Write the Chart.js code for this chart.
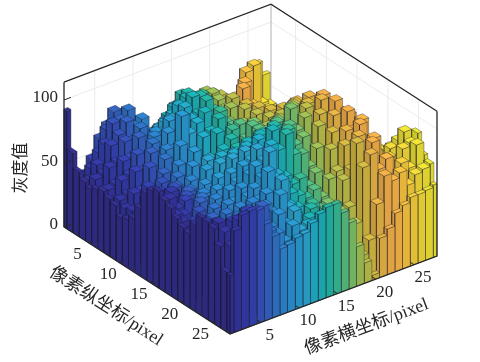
<!DOCTYPE html>
<html>
<head>
<meta charset="utf-8">
<script src="https://cdn.jsdelivr.net/npm/chart.js@4"></script>
<style>
    body { margin: 0; background: #fff; }
</style>
</head>
<body>
<canvas id="myChart" width="480" height="362"></canvas>
<script>
// gray value per row (pixel y 1..28), each row pixel x 1..28
var row01 = [93,30,32,36,44,50,46,40,36,34,36,38,40,44,46,48,46,44,42,40,38,40,44,50,56,74,63,36];
var row02 = [63,36,42,52,66,74,68,58,50,46,48,50,56,62,64,62,58,62,64,54,46,50,58,75,78,46,42,36];
var row03 = [51,40,50,60,76,88,84,72,62,56,60,62,68,74,74,70,68,76,72,58,50,58,72,52,46,44,40,36];
var row04 = [46,46,56,70,84,84,90,78,68,60,66,70,78,86,78,72,76,78,74,62,54,73,50,50,46,44,42,38];
var row05 = [43,50,52,72,78,86,80,84,70,66,74,78,84,90,82,74,70,76,74,66,58,52,52,48,48,44,42,38];
var row06 = [46,44,60,62,76,74,82,72,74,72,80,88,92,84,90,72,66,72,78,64,66,56,54,52,46,46,44,40];
var row07 = [48,48,50,66,66,80,72,76,68,84,78,90,96,94,80,72,62,76,70,74,60,62,54,52,50,46,48,42];
var row08 = [45,42,56,58,72,66,76,64,80,76,88,84,86,94,84,64,70,66,76,68,70,58,60,50,52,48,44,42];
var row09 = [43,46,48,64,62,74,66,72,70,94,78,84,90,80,86,74,60,70,68,78,64,66,56,58,50,50,46,44];
var row10 = [36,42,52,52,68,58,70,60,76,66,56,76,78,86,70,76,72,62,78,72,76,68,66,58,56,48,50,42];
var row11 = [38,44,44,58,54,64,56,66,60,72,60,62,80,70,78,80,62,74,70,82,68,74,62,62,54,54,46,46];
var row12 = [42,40,54,48,62,52,62,54,66,56,66,58,70,76,66,72,82,66,82,76,84,70,76,60,62,52,52,44];
var row13 = [53,50,48,60,54,60,50,60,52,64,58,70,64,72,62,85,80,80,74,90,78,88,72,72,58,58,48,50];
var row14 = [68,58,62,54,64,52,58,48,58,54,70,64,74,66,74,85,82,74,90,84,96,82,86,66,66,52,54,46];
var row15 = [73,70,60,66,56,62,48,56,50,64,62,78,70,80,72,84,78,92,84,100,90,98,78,78,60,60,50,52];
var row16 = [76,68,72,58,64,52,58,50,60,58,80,74,88,78,90,82,96,88,104,94,106,92,94,70,70,54,56,48];
var row17 = [72,72,62,66,54,60,50,58,54,74,72,90,84,96,86,100,92,108,98,106,100,108,86,80,60,62,50,54];
var row18 = [69,62,60,52,58,50,56,52,66,70,92,86,100,92,100,96,112,102,108,96,110,100,98,68,70,52,58,52];
var row19 = [64,60,50,54,48,54,50,60,60,86,88,102,94,108,96,104,98,106,92,104,96,110,90,76,56,60,54,60];
var row20 = [60,54,54,46,52,48,58,54,74,82,100,96,110,100,106,92,96,84,100,88,104,98,100,66,64,52,62,56];
var row21 = [58,54,48,50,46,54,52,64,70,92,94,104,98,108,90,88,76,88,78,96,90,108,88,74,54,60,58,66];
var row22 = [68,60,56,46,52,52,62,62,80,86,104,84,80,72,74,66,74,66,88,80,98,96,102,68,66,62,72,68];
var row23 = [77,68,60,58,50,62,60,74,74,94,86,80,70,66,62,66,58,70,74,92,84,104,86,78,60,76,80,84];
var row24 = [77,74,66,62,66,60,72,68,82,78,88,66,62,58,60,54,56,52,70,76,100,88,94,66,74,70,90,82];
var row25 = [75,78,74,72,68,78,66,78,70,82,70,62,54,62,52,56,46,50,52,100,86,96,76,78,68,82,84,90];
var row26 = [64,74,80,80,84,74,78,64,72,62,70,54,60,52,58,48,44,38,42,84,92,78,84,64,76,70,86,76];
var row27 = [47,66,84,88,86,88,66,62,54,64,58,60,56,62,60,50,38,26,20,30,56,76,70,74,62,68,70,72];
var row28 = [46,80,90,91,89,76,64,52,53,56,57,63,68,71,71,62,52,31,16,4,31,36,46,50,54,54,55,57];
var grayRows = [row01,row02,row03,row04,row05,row06,row07,row08,row09,row10,row11,row12,row13,row14,
    row15,row16,row17,row18,row19,row20,row21,row22,row23,row24,row25,row26,row27,row28];

var xTicks = [5, 10, 15, 20, 25];
var yTicks = [5, 10, 15, 20, 25];
var zTicks = [0, 50, 100];

var colColors = ['#33308f','#33339a','#3338a2','#3340ab','#3450b5','#3360bd','#2f70c2','#2c80c8',
    '#2a8ccb','#2896cb','#2ba0c8','#20a8c2','#1cacb0','#22b0a0','#35b48e','#55b87c',
    '#78bc66','#9cbc52','#b8b946','#cfb43f','#e0ae42','#ecaa45','#f0b044','#f0bd3e',
    '#eec83a','#ecd336','#e8dc32','#e6e22e'];

// view plane: where the data box sits
var zTop = 114;
function project(x, y, z) {
    return {
        x: 64 + (y - 1) * 166 / 27 + (x - 1) * 207 / 27,
        y: 227 + (y - 1) * 107 / 27 - (x - 1) * 78 / 27 - z * 1.27
    };
}

function shade(hex, k) {
    var n = parseInt(hex.slice(1), 16);
    var r = Math.min(255, Math.round((n >> 16) * k));
    var g = Math.min(255, Math.round(((n >> 8) & 255) * k));
    var b = Math.min(255, Math.round((n & 255) * k));
    return 'rgb(' + r + ',' + g + ',' + b + ')';
}

function face(pts, fillCol) {
    pts.push(pts[0]);
    return {
        data: pts, showLine: true, fill: 'shape', backgroundColor: fillCol,
        borderColor: 'rgba(25,25,45,0.5)', borderWidth: 0.7, pointRadius: 0, clip: false
    };
}

function line(pts, col, w) {
    return { data: pts, showLine: true, fill: false, borderColor: col, borderWidth: w, pointRadius: 0, clip: false };
}

var frontLines = [];
var backLines = [];
var bars = [];

// front to back, chart.js paints the first dataset last
for (var r = 28; r >= 1; r--) {
    for (var c = 1; c <= 28; c++) {
        var h = grayRows[r - 1][c - 1];
        var x0 = Math.max(c - 0.5, 1), x1 = Math.min(c + 0.5, 28);
        var y0 = Math.max(r - 0.5, 1), y1 = Math.min(r + 0.5, 28);
        var col = colColors[c - 1];
        bars.push(face([project(x0, y0, h), project(x1, y0, h), project(x1, y1, h), project(x0, y1, h)], shade(col, 1.05)));
        if (r == 28 || grayRows[r][c - 1] < h) {
            bars.push(face([project(x0, y1, 0), project(x1, y1, 0), project(x1, y1, h), project(x0, y1, h)], shade(col, 0.95)));
        }
        if (c == 1 || grayRows[r - 1][c - 2] < h) {
            bars.push(face([project(x0, y0, 0), project(x0, y1, 0), project(x0, y1, h), project(x0, y0, h)], shade(col, 0.88)));
        }
    }
}

// box and ticks in front of the bars
var axisCol = '#262626';
frontLines.push(line([project(1, 1, zTop), project(1, 1, 0), project(1, 28, 0), project(28, 28, 0), project(28, 28, zTop)], axisCol, 1.3));
frontLines.push(line([project(1, 1, zTop), project(28, 1, zTop), project(28, 28, zTop)], axisCol, 1.3));
xTicks.forEach(function (t) {
    frontLines.push(line([project(t, 28, 0), project(t, 27.4, 0)], axisCol, 1));
});
yTicks.forEach(function (t) {
    frontLines.push(line([project(1, t, 0), project(1.5, t, 0)], axisCol, 1));
});
zTicks.forEach(function (t) {
    frontLines.push(line([project(1, 1, t), project(1.9, 1, t)], axisCol, 1));
});

// back walls and grid behind the bars
var gridCol = '#e6e6e6';
backLines.push(line([project(28, 1, 0), project(28, 1, zTop)], '#b0b0b0', 1));
xTicks.forEach(function (t) {
    backLines.push(line([project(t, 1, 0), project(t, 1, zTop)], gridCol, 0.8));
});
yTicks.forEach(function (t) {
    backLines.push(line([project(28, t, 0), project(28, t, zTop)], gridCol, 0.8));
});
zTicks.forEach(function (t) {
    backLines.push(line([project(1, 1, t), project(28, 1, t), project(28, 28, t)], gridCol, 0.8));
});

var axisText = {
    id: 'axisText',
    afterDraw: function (chart) {
        var ctx = chart.ctx, sx = chart.scales.x, sy = chart.scales.y;
        function put(txt, v, dx, dy, rot, font, align) {
            ctx.save();
            ctx.translate(sx.getPixelForValue(v.x) + dx, sy.getPixelForValue(v.y) + dy);
            ctx.rotate(rot);
            ctx.font = font;
            ctx.fillStyle = '#262626';
            ctx.textAlign = align;
            ctx.textBaseline = 'middle';
            ctx.fillText(txt, 0, 0);
            ctx.restore();
        }
        var tickFont = '17px "Liberation Serif"';
        var titleFont = '18px "Liberation Serif","Noto Sans CJK SC"';
        zTicks.forEach(function (t) { put(String(t), project(1, 1, t), -6, -2, 0, tickFont, 'right'); });
        yTicks.forEach(function (t) { put(String(t), project(1, t, 0), -11, 12, 0, tickFont, 'center'); });
        xTicks.forEach(function (t) { put(String(t), project(t, 28, 0), 9, 13, 0, tickFont, 'center'); });
        put('灰度值', project(1, 1, 0), -42, -59, -Math.PI / 2, '17px "Liberation Serif","Noto Sans CJK SC"', 'center');
        put('像素纵坐标/pixel', project(1, 14.5, 0), -41, 26, 0.572, titleFont, 'center');
        put('像素横坐标/pixel', project(14.5, 28, 0), 33, 32, -0.36, titleFont, 'center');
    }
};

new Chart(document.getElementById('myChart'), {
    type: 'scatter',
    data: { datasets: frontLines.concat(bars, backLines) },
    options: {
        responsive: false,
        animation: false,
        events: [],
        layout: { padding: 0 },
        plugins: { legend: { display: false }, tooltip: { enabled: false } },
        scales: {
            x: { type: 'linear', display: false, min: 0, max: 480 },
            y: { type: 'linear', display: false, min: 0, max: 362, reverse: true }
        }
    },
    plugins: [axisText]
});
</script>
</body>
</html>
